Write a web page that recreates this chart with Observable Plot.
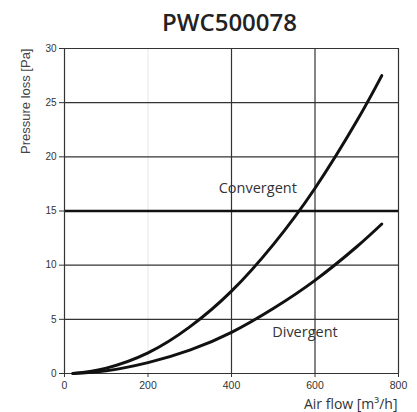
<!DOCTYPE html>
<html>
<head>
<meta charset="utf-8">
<script src="https://cdn.jsdelivr.net/npm/d3@7"></script>
<script src="https://cdn.jsdelivr.net/npm/@observablehq/plot@0.6"></script>
<style>
  body { margin: 0; background: #fff; }
  #title { height: 40px; width: 417px; box-sizing: border-box; padding-left: 42px; text-align: center;
           font-family: "Open Sans", sans-serif; font-weight: 600; font-size: 24px; line-height: 44px; color: #222; }
</style>
</head>
<body>
<div id="title">PWC500078</div>
<div id="chart"></div>
<script>
const airFlow = [20, 100, 200, 300, 400, 500, 600, 700, 760];
const convergent = [0, 0.5, 1.9, 4.3, 7.6, 11.9, 17.1, 23.3, 27.5];
const divergent = [0, 0.25, 1.0, 2.15, 3.8, 6.0, 8.6, 11.7, 13.8];
const xTicks = [0, 200, 400, 600, 800];
const yTicks = [0, 5, 10, 15, 20, 25, 30];
const gridY = [5, 10, 20, 25, 30];
const gridX = [400, 600, 800];
const seriesLabels = [
  {name: "Convergent", x: 463, y: 17.1},
  {name: "Divergent", x: 576, y: 3.8}
];

const conv = airFlow.map((x, i) => ({x, y: convergent[i]}));
const div = airFlow.map((x, i) => ({x, y: divergent[i]}));

const chart = Plot.plot({
  width: 417,
  height: 372,
  marginTop: 8,
  marginBottom: 39,
  marginLeft: 64,
  marginRight: 19,
  x: {domain: [0, 800]},
  y: {domain: [0, 30]},
  style: {fontFamily: "'Liberation Sans', Arial, sans-serif", color: "#333", background: "#fff"},
  marks: [
    Plot.ruleX([200], {stroke: "#e6e6e6", strokeWidth: 1}),
    Plot.ruleY(gridY, {stroke: "#333", strokeWidth: 1.2}),
    Plot.ruleX(gridX, {stroke: "#333", strokeWidth: 1.2}),
    Plot.ruleY([15], {stroke: "#111", strokeWidth: 2.6}),
    Plot.ruleX([0], {stroke: "#333", strokeWidth: 1.2}),
    Plot.ruleY([0], {stroke: "#333", strokeWidth: 1.2}),
    Plot.axisY({ticks: yTicks, tickSize: 5, tickPadding: 3, fontSize: 10, label: null, stroke: "#333"}),
    Plot.axisX({ticks: xTicks, tickSize: 4, tickPadding: 4, fontSize: 10.5, label: null, stroke: "#333"}),
    Plot.line(conv, {x: "x", y: "y", curve: "natural", stroke: "#111", strokeWidth: 3}),
    Plot.line(div, {x: "x", y: "y", curve: "natural", stroke: "#111", strokeWidth: 3}),
    Plot.text(seriesLabels, {x: "x", y: "y", text: "name", fontSize: 14.5, fill: "#333",
      fontFamily: "'Open Sans', sans-serif"}),
    Plot.text(["Air flow [m³/h]"], {frameAnchor: "bottom-right", textAnchor: "end", lineAnchor: "middle",
      dy: 31, dx: -1, fontSize: 14, fill: "#333", fontFamily: "'Open Sans', sans-serif"}),
    Plot.text(["Pressure loss [Pa]"], {frameAnchor: "top-left", textAnchor: "end", lineAnchor: "middle",
      rotate: -90, dx: -39, dy: 0, fontSize: 13, fill: "#444"})
  ]
});
document.getElementById("chart").appendChild(chart);
</script>
</body>
</html>
